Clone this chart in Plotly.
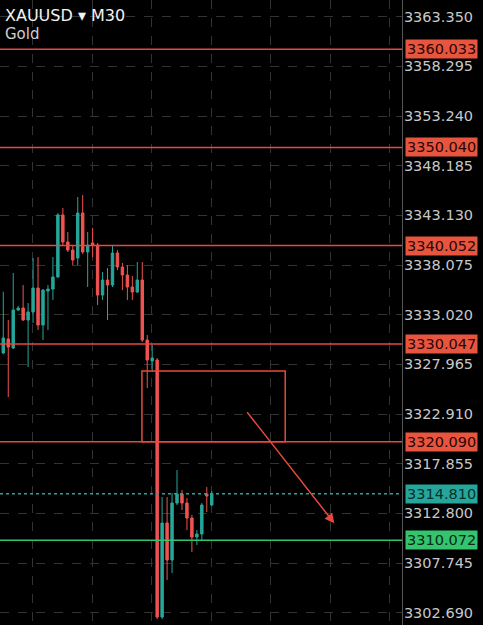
import plotly.graph_objects as go

# ---------------- data ----------------
candle_index = list(range(43))
opens = [3329.12, 3330.55, 3329.63, 3333.50, 3333.70, 3332.48, 3333.30, 3335.74, 3331.97, 3335.43,
         3335.63, 3336.86, 3343.17, 3340.42, 3339.60, 3338.79, 3343.37, 3339.40, 3340.32, 3340.11,
         3335.02, 3336.55, 3336.04, 3339.30, 3337.87, 3337.06, 3335.84, 3335.33, 3336.55, 3330.44,
         3328.31, 3328.41, 3302.25, 3311.82, 3308.05, 3313.85, 3314.77, 3313.85, 3312.33, 3310.39,
         3310.70, 3314.77, 3313.65]
highs = [3335.36, 3332.48, 3337.27, 3333.90, 3336.04, 3334.21, 3338.79, 3338.89, 3335.63, 3336.04,
         3338.89, 3343.37, 3343.88, 3341.44, 3340.11, 3345.00, 3345.20, 3341.44, 3341.85, 3340.32,
         3337.37, 3337.77, 3340.11, 3339.60, 3338.28, 3338.08, 3336.96, 3338.38, 3338.38, 3330.95,
         3329.94, 3328.61, 3314.46, 3314.46, 3314.87, 3317.21, 3315.18, 3314.36, 3312.64, 3311.10,
         3313.85, 3315.48, 3315.08]
lows = [3329.00, 3324.64, 3329.53, 3333.40, 3332.38, 3327.70, 3332.18, 3331.46, 3330.44, 3331.46,
        3334.52, 3336.76, 3340.11, 3339.40, 3338.08, 3338.08, 3339.20, 3335.84, 3338.89, 3334.01,
        3334.52, 3332.48, 3335.84, 3337.57, 3335.53, 3334.52, 3334.52, 3335.23, 3330.24, 3325.56,
        3327.19, 3302.05, 3302.05, 3306.02, 3306.73, 3313.65, 3313.14, 3311.11, 3308.87, 3309.58,
        3310.09, 3312.94, 3313.55]
closes = [3330.65, 3329.73, 3333.50, 3333.70, 3332.48, 3333.30, 3335.74, 3331.97, 3335.53, 3335.63,
          3336.86, 3343.17, 3340.42, 3339.60, 3338.59, 3343.37, 3339.40, 3340.11, 3340.11, 3335.02,
          3336.55, 3336.04, 3339.30, 3337.87, 3337.06, 3335.84, 3335.33, 3336.55, 3330.44, 3328.41,
          3328.61, 3302.25, 3311.82, 3308.05, 3313.85, 3314.77, 3313.85, 3312.33, 3310.39, 3310.70,
          3313.65, 3314.57, 3314.81]

y_ticks = [3363.350, 3358.295, 3353.240, 3348.185, 3343.130, 3338.075, 3333.020,
           3327.965, 3322.910, 3317.855, 3312.800, 3307.745, 3302.690]
x_grid = [5.9, 17.9, 29.9, 41.9, 53.9, 65.9, 77.9]

red_levels = [3360.033, 3350.040, 3340.052, 3330.047, 3320.090]
green_level = 3310.072
last_price = 3314.810

zone_x = [27.93, 56.8]
zone_y = [3320.090, 3327.30]
arrow_start = [48.9, 3323.25]
arrow_end = [66.7, 3311.79]

symbol_text = "XAUUSD ▾ M30"
name_text = "Gold"

# ---------------- styles ----------------
UP = "#26a69a"
DOWN = "#ef5350"
LINE_RED = "#e8493e"
BOX_RED = "#e8553f"
GREEN = "#35c46e"
GRID = "#333333"
FONT = "DejaVu Sans"

fig = go.Figure()
fig.add_trace(go.Candlestick(
    x=candle_index, open=opens, high=highs, low=lows, close=closes,
    increasing=dict(line=dict(color=UP, width=1), fillcolor=UP),
    decreasing=dict(line=dict(color=DOWN, width=1), fillcolor=DOWN),
    whiskerwidth=0, showlegend=False, hoverinfo="skip",
))

shapes = []
for lv in red_levels:
    shapes.append(dict(type="line", xref="paper", x0=0, x1=1, yref="y", y0=lv, y1=lv,
                       line=dict(color=LINE_RED, width=1.5), layer="above"))
shapes.append(dict(type="line", xref="paper", x0=0, x1=1, yref="y", y0=green_level, y1=green_level,
                   line=dict(color=GREEN, width=1.5), layer="above"))
shapes.append(dict(type="line", xref="paper", x0=0, x1=1, yref="y", y0=last_price, y1=last_price,
                   line=dict(color=UP, width=1.5, dash="dot"), layer="above"))
shapes.append(dict(type="rect", xref="x", yref="y", x0=zone_x[0], x1=zone_x[1], y0=zone_y[0], y1=zone_y[1],
                   line=dict(color=LINE_RED, width=1.5), fillcolor="rgba(0,0,0,0)", layer="above"))

annotations = []
box_font = 14.5
for lv in red_levels:
    annotations.append(dict(xref="paper", x=1, xanchor="left", xshift=3, yref="y", y=lv, yanchor="middle",
                            text=f"{lv:.3f}", showarrow=False, bgcolor=BOX_RED, borderpad=1,
                            font=dict(family=FONT, size=box_font, color="#2a0604")))
annotations.append(dict(xref="paper", x=1, xanchor="left", xshift=3, yref="y", y=green_level, yanchor="middle",
                        text=f"{green_level:.3f}", showarrow=False, bgcolor=GREEN, borderpad=1,
                        font=dict(family=FONT, size=box_font, color="#062a14")))
annotations.append(dict(xref="paper", x=1, xanchor="left", xshift=3, yref="y", y=last_price, yanchor="middle",
                        text=f"{last_price:.3f}", showarrow=False, bgcolor=UP, borderpad=1,
                        font=dict(family=FONT, size=box_font, color="#08302b")))
annotations.append(dict(xref="x", yref="y", x=arrow_end[0], y=arrow_end[1], axref="x", ayref="y",
                        ax=arrow_start[0], ay=arrow_start[1], text="", showarrow=True,
                        arrowhead=2, arrowsize=1.3, arrowwidth=1.5, arrowcolor=LINE_RED))
annotations.append(dict(xref="paper", yref="paper", x=0, y=1, xshift=3, yshift=-4, xanchor="left", yanchor="top",
                        text=symbol_text, showarrow=False,
                        font=dict(family=FONT, size=16, color="#f2f2f2")))
annotations.append(dict(xref="paper", yref="paper", x=0, y=1, xshift=3, yshift=-23, xanchor="left", yanchor="top",
                        text=name_text, showarrow=False,
                        font=dict(family=FONT, size=15, color="#cfcfcf")))

fig.update_layout(
    width=483, height=625,
    margin=dict(l=0, r=81, t=0, b=0),
    paper_bgcolor="#000000", plot_bgcolor="#000000",
    shapes=shapes, annotations=annotations,
    xaxis=dict(range=[-0.663, 80.33], rangeslider=dict(visible=False), showticklabels=False,
               tickvals=x_grid, showgrid=True, gridcolor=GRID, griddash="dash", gridwidth=1,
               zeroline=False, showline=False, ticks=""),
    yaxis=dict(side="right", range=[3301.44, 3365.05], tickvals=y_ticks,
               ticktext=[f"{v:.3f}" for v in y_ticks], showgrid=True, gridcolor=GRID,
               griddash="dash", gridwidth=1, zeroline=False, showline=True, linecolor="#555555",
               linewidth=1, ticks="", ticklabelstandoff=-2,
               tickfont=dict(family=FONT, size=14.5, color="#c8c8c8")),
)

fig.write_html("out.html")
